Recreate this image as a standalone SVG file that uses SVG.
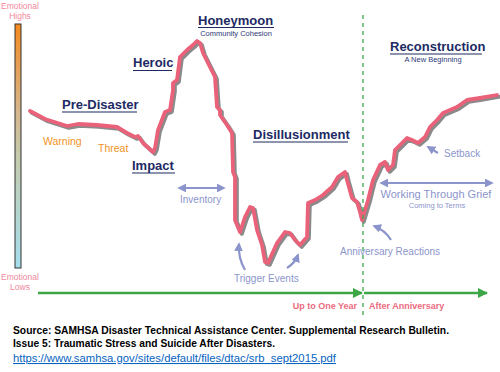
<svg xmlns="http://www.w3.org/2000/svg" width="500" height="372" viewBox="0 0 500 372">
<style>
.hd{font-family:"Liberation Sans",Arial,sans-serif;font-weight:bold;font-size:13px;fill:#1D2A63}
.ul{stroke:#1D2A63;stroke-width:1.2}
.sub{font-family:"Liberation Sans",Arial,sans-serif;font-size:7.5px;fill:#2E3A78}
.or{font-family:"Liberation Sans",Arial,sans-serif;font-size:10.5px;fill:#F39323}
.lv{font-family:"Liberation Sans",Arial,sans-serif;font-size:10px;fill:#8C95CB}
.lvs{font-family:"Liberation Sans",Arial,sans-serif;font-size:7.5px;fill:#8C95CB}
.emo{font-family:"Liberation Sans",Arial,sans-serif;font-size:8.5px;fill:#F2899C;text-anchor:middle}
.pk{font-family:"Liberation Sans",Arial,sans-serif;font-size:9px;font-weight:bold;fill:#EC6B80}
.src{font-family:"Liberation Sans",Arial,sans-serif;font-size:10.5px;font-weight:bold;fill:#000}
.lnk{font-family:"Liberation Sans",Arial,sans-serif;font-size:10.5px;fill:#0563C1;text-decoration:underline}
.la{fill:none;stroke:#8C95CB;stroke-width:2.2}
.ga{fill:none;stroke:#3DA647;stroke-width:2.5}
</style>
<defs>
<linearGradient id="bar" x1="0" y1="0" x2="0" y2="1">
<stop offset="0" stop-color="#F58A1F"/>
<stop offset="0.35" stop-color="#D6B68A"/>
<stop offset="0.55" stop-color="#C4CBAE"/>
<stop offset="1" stop-color="#A6DFEE"/>
</linearGradient>
<marker id="la" viewBox="0 0 10 10" refX="8" refY="5" markerWidth="4" markerHeight="4" orient="auto-start-reverse" markerUnits="strokeWidth">
<path d="M0,0 L10,5 L0,10 z" fill="#8C95CB"/>
</marker>
<marker id="ga" viewBox="0 0 10 10" refX="9" refY="5" markerWidth="4" markerHeight="4" orient="auto" markerUnits="strokeWidth">
<path d="M0,0 L10,5 L0,10 z" fill="#3DA647"/>
</marker>
</defs>

<g id="scale">
<rect x="15" y="24" width="6" height="244" fill="url(#bar)" stroke="#333" stroke-width="1"/>
<text class="emo" x="20" y="9">Emotional</text>
<text class="emo" x="20" y="19">Highs</text>
<text class="emo" x="20" y="280">Emotional</text>
<text class="emo" x="20" y="290">Lows</text>
</g>

<g id="curve" fill="none" stroke-linejoin="round" stroke-linecap="round">
<path d="M30,111 L45,119 L67,126 L78,124 L97,125 L117,127 L127,133 L135,137 L138,136 L143,143 L153,152 L155,148 L158,130 L165,112 L170,110 L173,90 L173,83 L177,80 L180,57 L187,50 L193,45 L197,41 L200,43 L203,53 L210,67 L215,77 L217,107 L220,110 L220,115 L227,125 L232,133 L233,172 L235,177 L235,220 L240,232 L245,217 L250,207 L253,208 L257,230 L262,245 L265,262 L268,263 L277,243 L285,232 L290,233 L295,240 L300,245 L307,237 L308,203 L315,200 L323,195 L332,187 L338,177 L345,172 L347,180 L352,198 L357,202 L360,212 L362,220 L368,200 L373,180 L380,165 L385,162 L388,170 L393,165 L395,150 L400,145 L407,138 L412,140 L418,143 L425,137 L430,127 L437,120 L443,113 L450,110 L457,107 L467,100 L480,98 L497,95" stroke="#8A8A8A" stroke-width="4" transform="translate(1.8,1.8)"/>
<path d="M30,111 L45,119 L67,126 L78,124 L97,125 L117,127 L127,133 L135,137 L138,136 L143,143 L153,152 L155,148 L158,130 L165,112 L170,110 L173,90 L173,83 L177,80 L180,57 L187,50 L193,45 L197,41 L200,43 L203,53 L210,67 L215,77 L217,107 L220,110 L220,115 L227,125 L232,133 L233,172 L235,177 L235,220 L240,232 L245,217 L250,207 L253,208 L257,230 L262,245 L265,262 L268,263 L277,243 L285,232 L290,233 L295,240 L300,245 L307,237 L308,203 L315,200 L323,195 L332,187 L338,177 L345,172 L347,180 L352,198 L357,202 L360,212 L362,220 L368,200 L373,180 L380,165 L385,162 L388,170 L393,165 L395,150 L400,145 L407,138 L412,140 L418,143 L425,137 L430,127 L437,120 L443,113 L450,110 L457,107 L467,100 L480,98 L497,95" stroke="#E9627A" stroke-width="3.8"/>
</g>

<g id="connectors">
<line x1="363" y1="15" x2="363" y2="316" stroke="#3DA647" stroke-width="1.3" stroke-dasharray="4,4"/>
<line class="ga" x1="38" y1="293" x2="362" y2="293" marker-end="url(#ga)"/>
<line class="ga" x1="364" y1="293" x2="487" y2="293" marker-end="url(#ga)"/>
<line class="la" x1="179" y1="188" x2="224" y2="188" marker-start="url(#la)" marker-end="url(#la)"/>
<line class="la" x1="381" y1="183" x2="492" y2="183" marker-start="url(#la)" marker-end="url(#la)"/>
<path class="la" d="M245,270 Q238,258 239,244" marker-end="url(#la)"/>
<path class="la" d="M287,268 Q295,263 298,255" marker-end="url(#la)"/>
<path class="la" d="M391,240 Q385,230 374,226" marker-end="url(#la)"/>
<path class="la" d="M438,153 L428,147" marker-end="url(#la)"/>
</g>

<g id="pre-disaster">
<text class="hd" x="62" y="109">Pre-Disaster</text>
<line class="ul" x1="62" y1="112" x2="137" y2="112"/>
<text class="or" x="43" y="145">Warning</text>
<text class="or" x="98" y="152">Threat</text>
</g>
<g id="heroic">
<text class="hd" x="133" y="67">Heroic</text>
<line class="ul" x1="133" y1="70.5" x2="172" y2="70.5"/>
</g>
<g id="impact">
<text class="hd" x="132" y="170">Impact</text>
<line class="ul" x1="132" y1="173" x2="175" y2="173"/>
</g>
<g id="honeymoon">
<text class="hd" x="198" y="25">Honeymoon</text>
<line class="ul" x1="198" y1="27.5" x2="274" y2="27.5"/>
<text class="sub" x="236" y="35.5" text-anchor="middle">Community Cohesion</text>
</g>
<g id="disillusionment">
<text class="hd" x="253" y="139">Disillusionment</text>
<line class="ul" x1="253" y1="142" x2="348" y2="142"/>
</g>
<g id="reconstruction">
<text class="hd" x="390" y="51">Reconstruction</text>
<line class="ul" x1="390" y1="54" x2="482" y2="54"/>
<text class="sub" x="433" y="62" text-anchor="middle">A New Beginning</text>
</g>
<g id="inventory"><text class="lv" x="180" y="203">Inventory</text></g>
<g id="trigger"><text class="lv" x="234" y="282">Trigger Events</text></g>
<g id="anniversary"><text class="lv" x="340" y="255">Anniversary Reactions</text></g>
<g id="setback"><text class="lv" x="444" y="157">Setback</text></g>
<g id="working">
<text class="lv" x="436" y="198" text-anchor="middle" style="font-size:11px">Working Through Grief</text>
<text class="lvs" x="437" y="208" text-anchor="middle">Coming to Terms</text>
</g>
<g id="timeline">
<text class="pk" x="357" y="309" text-anchor="end">Up to One Year</text>
<text class="pk" x="369" y="309">After Anniversary</text>
</g>
<g id="source">
<text class="src" x="13" y="334" textLength="436" lengthAdjust="spacingAndGlyphs">Source: SAMHSA Disaster Technical Assistance Center. Supplemental Research Bulletin.</text>
<text class="src" x="13" y="347" textLength="262" lengthAdjust="spacingAndGlyphs">Issue 5: Traumatic Stress and Suicide After Disasters.</text>
<text class="lnk" x="13" y="362" textLength="323" lengthAdjust="spacingAndGlyphs">https://www.samhsa.gov/sites/default/files/dtac/srb_sept2015.pdf</text>
</g>
</svg>
